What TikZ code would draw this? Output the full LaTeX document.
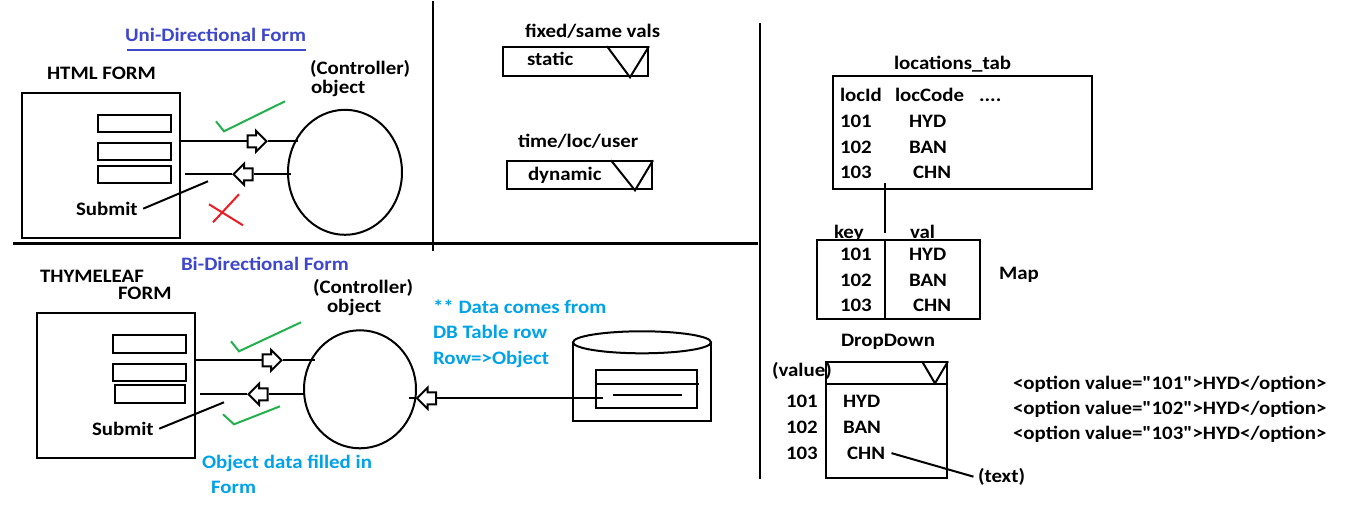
\documentclass[tikz,border=0pt]{standalone}
\usepackage{fontspec}
\setmainfont{Carlito}[Ligatures=TeXOff,FakeStretch=1.1]
\usetikzlibrary{shapes.geometric,shapes.arrows}
\definecolor{paintblue}{RGB}{63,72,204}
\definecolor{paintcyan}{RGB}{0,162,232}
\definecolor{paintgreen}{RGB}{34,177,76}
\definecolor{paintred}{RGB}{237,28,36}

\begin{document}
\begin{tikzpicture}[x=1pt,y=-1pt,line width=2pt,
        font=\fontsize{19}{22}\selectfont\bfseries,
        txt/.style={inner sep=0.5pt,anchor=base west,xshift=-0.5pt},
        box/.style={draw,rectangle,inner sep=0pt},
        field/.style={box,minimum width=73pt,minimum height=17pt},
        ctrl node/.style={draw,ellipse,inner sep=0pt,minimum width=114pt,minimum height=125pt},
        flow/.style={draw,fill=white,single arrow,inner xsep=0pt,inner ysep=5pt,
          minimum height=19pt,single arrow head extend=4.5pt},
        back flow/.style={flow,shape border rotate=180},
        tick/.style={paintgreen,line width=2pt},
        divider/.style={line width=2.6pt}]
        \fill[white] (0,0) rectangle (1366,512);
        % dividers
        \draw[divider] (433,0) -- (433,250);
        \draw[divider] (13,242) -- (758,242);
        \draw[divider] (760,22) -- (760,478);

        % html form
        \node[txt,paintblue] (uni) at (124,40) {Uni-Directional Form};
        \draw[paintblue] (127,49) -- (306,49);
        \node[txt] (htmlt) at (46,78) {HTML FORM};
        \node[box,minimum width=158pt,minimum height=145pt] (html) at (101,164.5) {};
        \node[field] (h1) at (134.5,122.5) {};
        \node[field] (h2) at (134.5,150) {};
        \node[field] (h3) at (134.5,173) {};
        \node[ctrl node] (c1) at (345,171) {};
        \node[txt] (ct1) at (309,73) {(Controller)};
        \node[txt] (ob1) at (310,92) {object};
        \node[flow] (a1) at (254,140) {};
        \node[back flow] (a2) at (246,173) {};
        \coordinate (h0) at (185,173);
        \draw (html.east |- a1) -- (a1.tail);
        \draw (a1.tip) -- ([xshift=4pt]a1.tip -| c1.150);
        \draw (a2.tail) -- ([xshift=4pt]a2.tail -| c1.west);
        \draw (a2.tip) -- (h0);
        \draw[tick] (216,120) -- (224,130) -- (285,100);
        \draw[paintred] (209,203) -- (243,224) (213,221) -- (239,193);
        \node[txt] (sub1) at (75,214) {Submit};
        \coordinate (s1) at (208,180);
        \draw ([xshift=4pt]sub1.east) -- (s1);

        % thymeleaf form
        \node[txt,paintblue] (bi) at (180,269) {Bi-Directional Form};
        \node[txt] (thy) at (39,281) {THYMELEAF};
        \node[txt] (thyf) at (117,298) {FORM};
        \node[box,minimum width=158pt,minimum height=145pt] (thyme) at (116,384.5) {};
        \node[field,minimum height=18pt] (t1) at (149.5,343) {};
        \node[field] (t2) at (149.5,371) {};
        \node[field,minimum width=70pt,minimum height=18pt] (t3) at (150,393) {};
        \node[ctrl node,minimum width=112pt,minimum height=118pt] (c2) at (360,388) {};
        \node[txt] (ct2) at (312,292) {(Controller)};
        \node[txt] (ob2) at (326,311) {object};
        \node[flow] (a3) at (269,359) {};
        \node[back flow] (a4) at (261,393) {};
        \coordinate (t0) at (200,393);
        \draw (thyme.east |- a3) -- (a3.tail);
        \draw (a3.tip) -- ([xshift=5pt]a3.tip -| c2.150);
        \draw (a4.tail) -- ([xshift=2pt]a4.tail -| c2.west);
        \draw (a4.tip) -- (t0);
        \draw[tick] (231,340) -- (239,350) -- (301,321);
        \draw[tick] (223,413) -- (234,423) -- (280,405);
        \node[txt] (sub2) at (91,434) {Submit};
        \coordinate (s2) at (224,401);
        \draw ([xshift=4pt]sub2.east) -- (s2);
        \node[txt,paintcyan] (fill1) at (201,467) {Object data filled in};
        \node[txt,paintcyan] (fill2) at (210,492) {Form};

        % db table
        \node[txt,paintcyan] (note1) at (432,312) {** Data comes from};
        \node[txt,paintcyan] (note2) at (432,337) {DB Table row};
        \node[txt,paintcyan] (note3) at (432,363) {Row=>Object};
        \node[box,minimum width=138pt,minimum height=78pt] (db) at (642,381) {};
        \draw[fill=white] (db.north) ellipse (69pt and 11pt);
        \node[box,minimum width=101pt,minimum height=38pt] (dbrow) at (646.5,388) {};
        \draw (596,383) -- (699,383);
        \draw (613,394) -- (682,394);
        \node[back flow] (a5) at (429.5,397) {};
        \coordinate (r0) at (603,397);
        \draw (r0) -- (a5.tail);
        \draw (a5.tip) -- ([xshift=-8pt]a5.tip -| c2.east);

        % static / dynamic
        \node[txt] (fixed) at (524,36) {fixed/same vals};
        \node[box,minimum width=145pt,minimum height=29pt] (stat) at (575.5,60.5) {};
        \node[txt] (statl) at (526,64) {static};
        \draw ([xshift=-42pt]stat.north east) -- ([xshift=-19pt]stat.south east) -- (stat.north east);
        \node[txt] (tlu) at (517,146) {time/loc/user};
        \node[box,minimum width=145pt,minimum height=28pt] (dyn) at (579.5,174) {};
        \node[txt] (dynl) at (527,179) {dynamic};
        \draw ([xshift=-42pt]dyn.north east) -- ([xshift=-18pt]dyn.south east) -- (dyn.north east);

        % locations table
        \node[txt] (ltab) at (893,68) {locations\_tab};
        \node[box,minimum width=259pt,minimum height=113pt] (loctab) at (962.5,131.5) {};
        \node[txt] (lid) at (839,100) {locId};
        \node[txt] (lcode) at (894,100) {locCode};
        \node[txt] (ldots) at (978,100) {....};
        \node[txt] (l1) at (839,126) {101};
        \node[txt] (l1v) at (908,126) {HYD};
        \node[txt] (l2) at (839,152) {102};
        \node[txt] (l2v) at (908,152) {BAN};
        \node[txt] (l3) at (839,177) {103};
        \node[txt] (l3v) at (912,177) {CHN};

        % map
        \node[txt] (key) at (833,237) {key};
        \node[txt] (val) at (909,237) {val};
        \node[box,minimum width=163pt,minimum height=79pt] (mapbox) at (898.5,278.5) {};
        \coordinate (split) at (885,0);
        \draw ([yshift=7pt]split |- loctab.south) -- ([yshift=6pt]split |- mapbox.north);
        \draw (split |- mapbox.north) -- (split |- mapbox.south);
        \node[txt] (m1) at (839,259) {101};
        \node[txt] (m1v) at (908,259) {HYD};
        \node[txt] (m2) at (839,285) {102};
        \node[txt] (m2v) at (908,285) {BAN};
        \node[txt] (m3) at (839,310) {103};
        \node[txt] (m3v) at (912,310) {CHN};
        \node[txt] (maplbl) at (998,278) {Map};

        % dropdown
        \node[txt] (ddt) at (840,345) {DropDown};
        \node[box,minimum width=121pt,minimum height=116pt] (dd) at (886.5,419) {};
        \draw ([yshift=-23pt]dd.north west) -- ([yshift=-23pt]dd.north east);
        \draw ([xshift=-26pt]dd.north east) -- ([xshift=-13pt,yshift=-22pt]dd.north east) -- (dd.north east);
        \node[txt] (value) at (771,375) {(value)};
        \node[txt] (d1) at (785,406) {101};
        \node[txt] (d1v) at (842,406) {HYD};
        \node[txt] (d2) at (785,432) {102};
        \node[txt] (d2v) at (842,432) {BAN};
        \node[txt] (d3) at (785,458) {103};
        \node[txt] (d3v) at (846,458) {CHN};
        \node[txt] (text) at (977,481) {(text)};
        \draw ([xshift=5pt]d3v.east) -- ([xshift=-3pt]text.west);
        \node[txt] (opt1) at (1012,388) {<option value="101">HYD</option>};
        \node[txt] (opt2) at (1012,413) {<option value="102">HYD</option>};
        \node[txt] (opt3) at (1012,438) {<option value="103">HYD</option>};
\end{tikzpicture}
\end{document}
